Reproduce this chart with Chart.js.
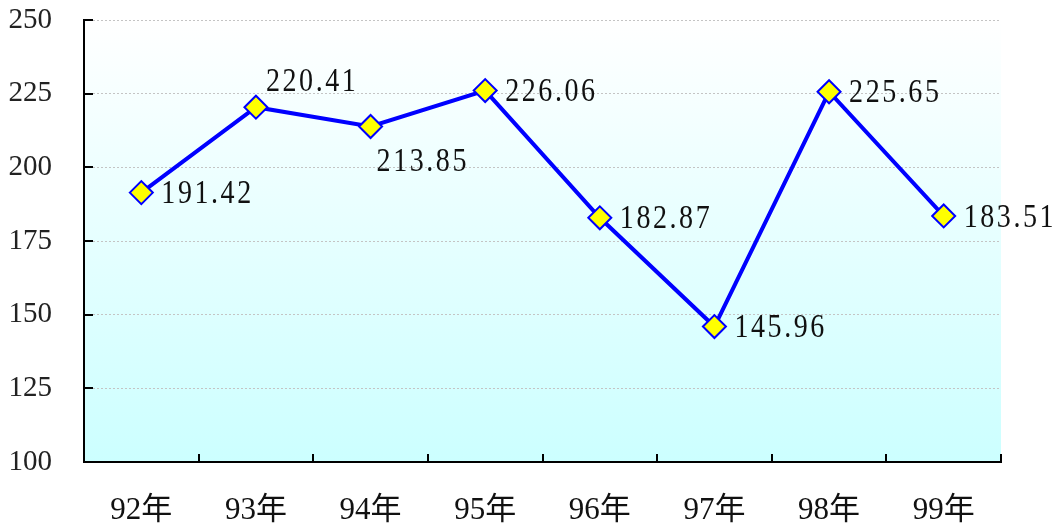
<!DOCTYPE html>
<html>
<head>
<meta charset="utf-8">
<script src="https://cdn.jsdelivr.net/npm/chart.js@4/dist/chart.umd.min.js"></script>
<style>
  html, body { margin: 0; padding: 0; background: #ffffff; }
  #wrap { width: 1060px; height: 528px; }
</style>
</head>
<body>
<div id="wrap"><canvas id="chart" width="1060" height="528"></canvas></div>
<script>
// values
const years = ["92年", "93年", "94年", "95年", "96年", "97年", "98年", "99年"];
const values = [191.42, 220.41, 213.85, 226.06, 182.87, 145.96, 225.65, 183.51];
const labelPlacement = ["right", "above", "below", "right", "right", "right", "right", "right"];
const yMin = 100;
const yMax = 250;
const yStep = 25;

const serif = "'Liberation Serif', 'Times New Roman', 'Noto Sans CJK TC', serif";

// light gradient behind the plot area
const plotBackground = {
    id: "plotBackground",
    beforeDraw(chart) {
        const { ctx, chartArea } = chart;
        const g = ctx.createLinearGradient(0, chartArea.top, 0, chartArea.bottom);
        g.addColorStop(0, "#ffffff");
        g.addColorStop(1, "#ccffff");
        ctx.save();
        ctx.fillStyle = g;
        ctx.fillRect(chartArea.left, chartArea.top, chartArea.right - chartArea.left, chartArea.bottom - chartArea.top);
        ctx.restore();
    },
};

// short tick marks pointing into the plot
const innerTicks = {
    id: "innerTicks",
    afterDraw(chart) {
        const { ctx, chartArea, scales } = chart;
        ctx.save();
        ctx.strokeStyle = "#000000";
        ctx.lineWidth = 2;
        ctx.beginPath();
        scales.y.ticks.forEach((t) => {
            const y = Math.round(scales.y.getPixelForValue(t.value));
            ctx.moveTo(chartArea.left, y);
            ctx.lineTo(chartArea.left + 9, y);
        });
        const step = (chartArea.right - chartArea.left) / years.length;
        for (let i = 1; i <= years.length; i++) {
            const x = Math.round(chartArea.left + i * step);
            ctx.moveTo(x, chartArea.bottom);
            ctx.lineTo(x, chartArea.bottom - 8);
        }
        ctx.stroke();
        ctx.restore();
    },
};

// value labels next to each point (tall, slightly condensed glyphs)
const valueLabels = {
    id: "valueLabels",
    afterDatasetsDraw(chart) {
        const { ctx } = chart;
        const meta = chart.getDatasetMeta(0);
        const sx = 0.85;
        ctx.save();
        ctx.font = "33px " + serif;
        ctx.fillStyle = "#111111";
        ctx.textAlign = "left";
        ctx.textBaseline = "middle";
        if ("letterSpacing" in ctx) ctx.letterSpacing = "3px";
        meta.data.forEach((pt, i) => {
            let dx = 20, dy = 2;
            if (labelPlacement[i] === "above") { dx = 10; dy = -25; }
            if (labelPlacement[i] === "below") { dx = 6; dy = 36; }
            ctx.save();
            ctx.translate(pt.x + dx, pt.y + dy);
            ctx.scale(sx, 1);
            ctx.fillText(values[i].toFixed(2), 0, 0);
            ctx.restore();
        });
        ctx.restore();
    },
};

new Chart(document.getElementById("chart"), {
    type: "line",
    data: {
        labels: years,
        datasets: [
            {
                data: values,
                borderColor: "#0000ff",
                borderWidth: 4,
                tension: 0,
                pointStyle: "rectRot",
                pointRadius: 11.5,
                pointBackgroundColor: "#ffff00",
                pointBorderColor: "#0000ff",
                pointBorderWidth: 2,
            },
        ],
    },
    options: {
        responsive: false,
        animation: false,
        layout: { padding: { left: 0, right: 59, top: 20, bottom: 0 } },
        plugins: {
            legend: { display: false },
            tooltip: { enabled: false },
        },
        scales: {
            x: {
                type: "category",
                offset: true,
                grid: { display: false, drawTicks: false },
                border: { display: true, color: "#000000", width: 2 },
                ticks: {
                    color: "#111111",
                    font: { family: serif, size: 31 },
                    padding: 30,
                    maxRotation: 0,
                },
                afterFit: (scale) => { scale.height = 66; scale.paddingLeft = 0; scale.paddingRight = 0; },
            },
            y: {
                min: yMin,
                max: yMax,
                grid: { color: "#c4c4c4", lineWidth: 1, drawTicks: false },
                border: { display: true, color: "#000000", width: 2, dash: [2, 2] },
                ticks: {
                    stepSize: yStep,
                    color: "#222222",
                    font: { family: serif, size: 29 },
                    padding: 32,
                },
                afterFit: (scale) => { scale.width = 84; scale.paddingTop = 0; scale.paddingBottom = 0; },
            },
        },
    },
    plugins: [plotBackground, innerTicks, valueLabels],
});
</script>
</body>
</html>
